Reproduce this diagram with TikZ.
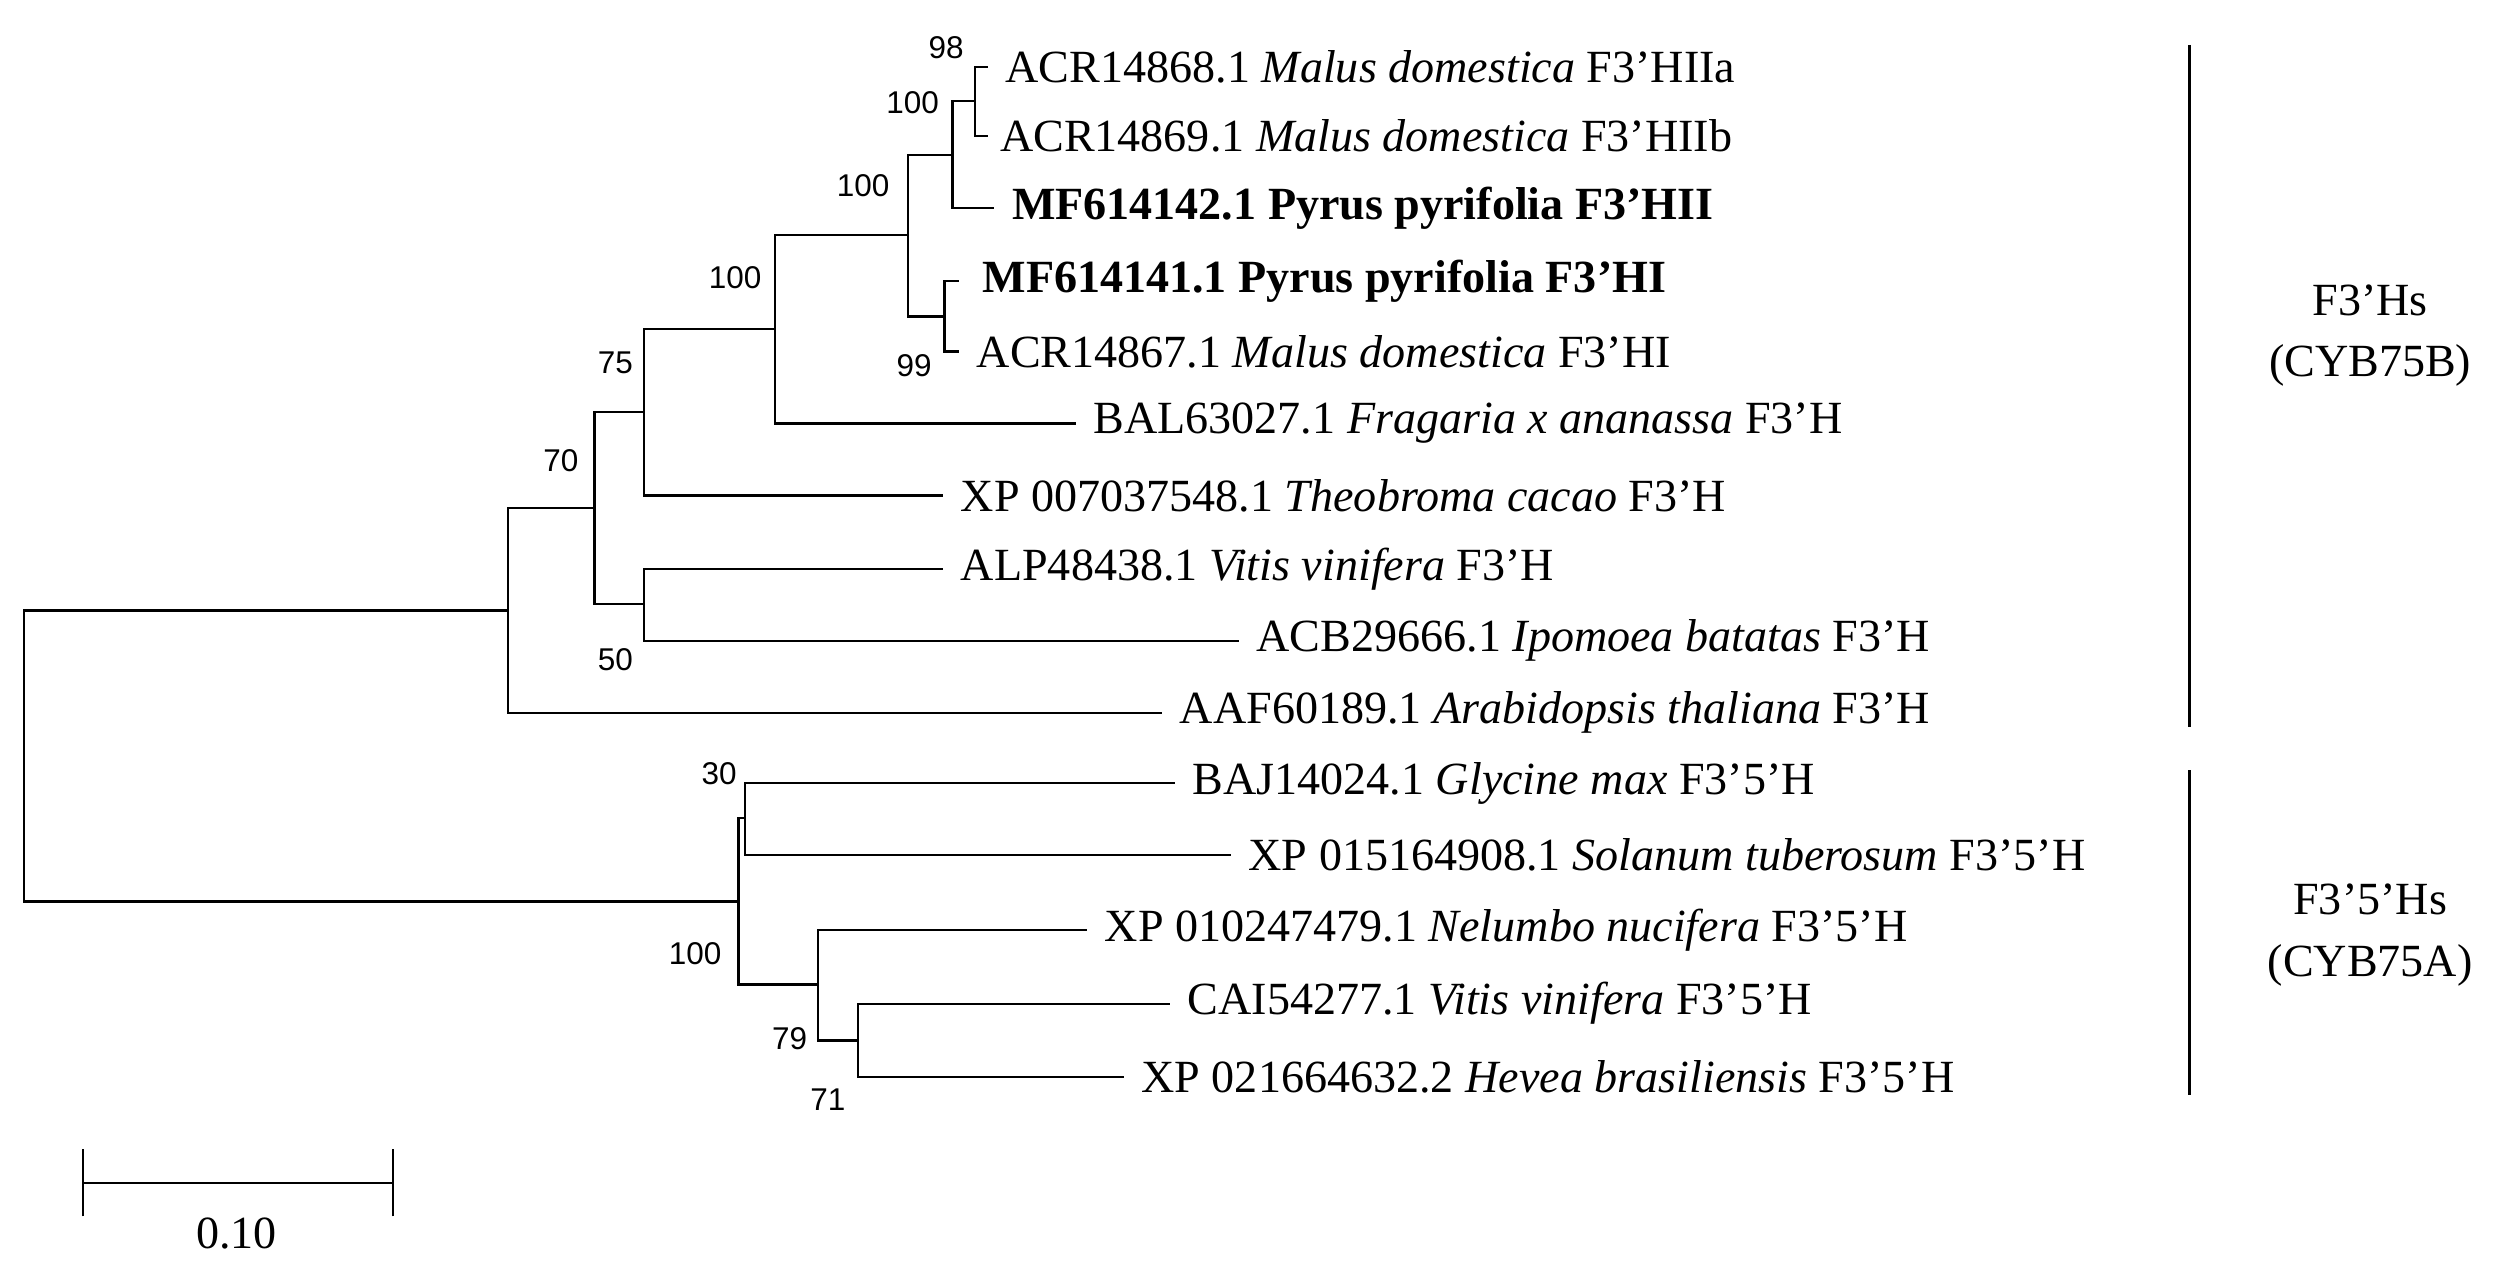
\documentclass[tikz,border=0pt]{standalone}
\usepackage{fontspec}
\setmainfont{Liberation Serif}
\newfontfamily\numfont{Liberation Sans}
\begin{document}
\begin{tikzpicture}[x=0.01cm,y=-0.01cm,
  leaf/.style={anchor=west,inner sep=0pt,font=\fontsize{8.2pt}{9pt}\selectfont},
  boot/.style={inner sep=1pt,font=\numfont\fontsize{5.6pt}{6pt}\selectfont},
  clade/.style={inner sep=0pt,font=\fontsize{8.2pt}{9pt}\selectfont,align=center}]
  \useasboundingbox (0,0) rectangle (1568,800);
  % leaf tips
  \coordinate (t1) at (618,42);  \coordinate (t2) at (618,85);
  \coordinate (t3) at (622,130); \coordinate (t4) at (600,176);
  \coordinate (t5) at (600,220); \coordinate (t6) at (673,265);
  \coordinate (t7) at (590,310); \coordinate (t8) at (590,356);
  \coordinate (t9) at (775,401); \coordinate (t10) at (727,446);
  \coordinate (t11) at (735,490); \coordinate (t12) at (770,535);
  \coordinate (t13) at (680,582); \coordinate (t14) at (732,628);
  \coordinate (t15) at (703,674);
  % internal nodes
  \coordinate (n12) at (610,63);   \coordinate (n123) at (596,97);
  \coordinate (n45) at (591,198);  \coordinate (n15) at (568,147);
  \coordinate (n16) at (485,206);  \coordinate (n17) at (403,258);
  \coordinate (n89) at (403,378);  \coordinate (n19) at (372,318);
  \coordinate (n110) at (318,382); \coordinate (n1112) at (466,512);
  \coordinate (n1415) at (537,651); \coordinate (n1315) at (512,616);
  \coordinate (n1115) at (462,564); \coordinate (root) at (15,473);
  % branches
  \draw (n12) |- (t1) (n12) |- (t2);
  \draw (n123) |- (n12) (n123) |- (t3);
  \draw (n45) |- (t4) (n45) |- (t5);
  \draw (n15) |- (n123) (n15) |- (n45);
  \draw (n16) |- (n15) (n16) |- (t6);
  \draw (n17) |- (n16) (n17) |- (t7);
  \draw (n89) |- (t8) (n89) |- (t9);
  \draw (n19) |- (n17) (n19) |- (n89);
  \draw (n110) |- (n19) (n110) |- (t10);
  \draw (n1112) |- (t11) (n1112) |- (t12);
  \draw (n1415) |- (t14) (n1415) |- (t15);
  \draw (n1315) |- (t13) (n1315) |- (n1415);
  \draw (n1115) |- (n1112) (n1115) |- (n1315);
  \draw (root) |- (n110) (root) |- (n1115);
  % leaf labels
  \node[leaf] (l1) at ([xshift=3pt]t1) {ACR14868.1 \textit{Malus domestica} F3’HIIa};
  \node[leaf] (l2) at ([xshift=2pt]t2) {ACR14869.1 \textit{Malus domestica} F3’HIIb};
  \node[leaf] (l3) at ([xshift=3pt]t3) {\textbf{MF614142.1 Pyrus pyrifolia F3’HII}};
  \node[leaf] (l4) at ([xshift=4pt]t4) {\textbf{MF614141.1 Pyrus pyrifolia F3’HI}};
  \node[leaf] (l5) at ([xshift=3pt]t5) {ACR14867.1 \textit{Malus domestica} F3’HI};
  \node[leaf] (l6) at ([xshift=3pt]t6) {BAL63027.1 \textit{Fragaria x ananassa} F3’H};
  \node[leaf] (l7) at ([xshift=3pt]t7) {XP 007037548.1 \textit{Theobroma cacao} F3’H};
  \node[leaf] (l8) at ([xshift=3pt]t8) {ALP48438.1 \textit{Vitis vinifera} F3’H};
  \node[leaf] (l9) at ([xshift=3pt]t9) {ACB29666.1 \textit{Ipomoea batatas} F3’H};
  \node[leaf] (l10) at ([xshift=3pt]t10) {AAF60189.1 \textit{Arabidopsis thaliana} F3’H};
  \node[leaf] (l11) at ([xshift=3pt]t11) {BAJ14024.1 \textit{Glycine max} F3’5’H};
  \node[leaf] (l12) at ([xshift=3pt]t12) {XP 015164908.1 \textit{Solanum tuberosum} F3’5’H};
  \node[leaf] (l13) at ([xshift=3pt]t13) {XP 010247479.1 \textit{Nelumbo nucifera} F3’5’H};
  \node[leaf] (l14) at ([xshift=3pt]t14) {CAI54277.1 \textit{Vitis vinifera} F3’5’H};
  \node[leaf] (l15) at ([xshift=3pt]t15) {XP 021664632.2 \textit{Hevea brasiliensis} F3’5’H};
  % bootstrap values
  \node[boot] (b1) at (592,30) {98};
  \node[boot] (b2) at (571,64) {100};
  \node[boot] (b3) at (540,116) {100};
  \node[boot] (b4) at (572,229) {99};
  \node[boot] (b5) at (460,174) {100};
  \node[boot] (b6) at (385,227) {75};
  \node[boot] (b7) at (351,288) {70};
  \node[boot] (b8) at (385,413) {50};
  \node[boot] (b9) at (450,484) {30};
  \node[boot] (b10) at (435,597) {100};
  \node[boot] (b11) at (494,650) {79};
  \node[boot] (b12) at (518,688) {71};
  % clade bars
  \coordinate (c1a) at (1370,28);  \coordinate (c1b) at (1370,455);
  \coordinate (c2a) at (1370,482); \coordinate (c2b) at (1370,685);
  \draw (c1a) -- (c1b);
  \draw (c2a) -- (c2b);
  \node[clade] (k1) at (1483,210) {F3’Hs\\[2pt](CYB75B)};
  \node[clade] (k2) at (1483,585) {F3’5’Hs\\[2pt](CYB75A)};
  % scale bar
  \coordinate (s1) at (52,740); \coordinate (s2) at (246,740);
  \draw (s1) -- (s2);
  \draw ([yshift=-6]s1) -- ([yshift=6]s1);
  \draw ([yshift=-6]s2) -- ([yshift=6]s2);
  \node[leaf,anchor=center] (sl) at (148,772) {0.10};
\end{tikzpicture}
\end{document}
